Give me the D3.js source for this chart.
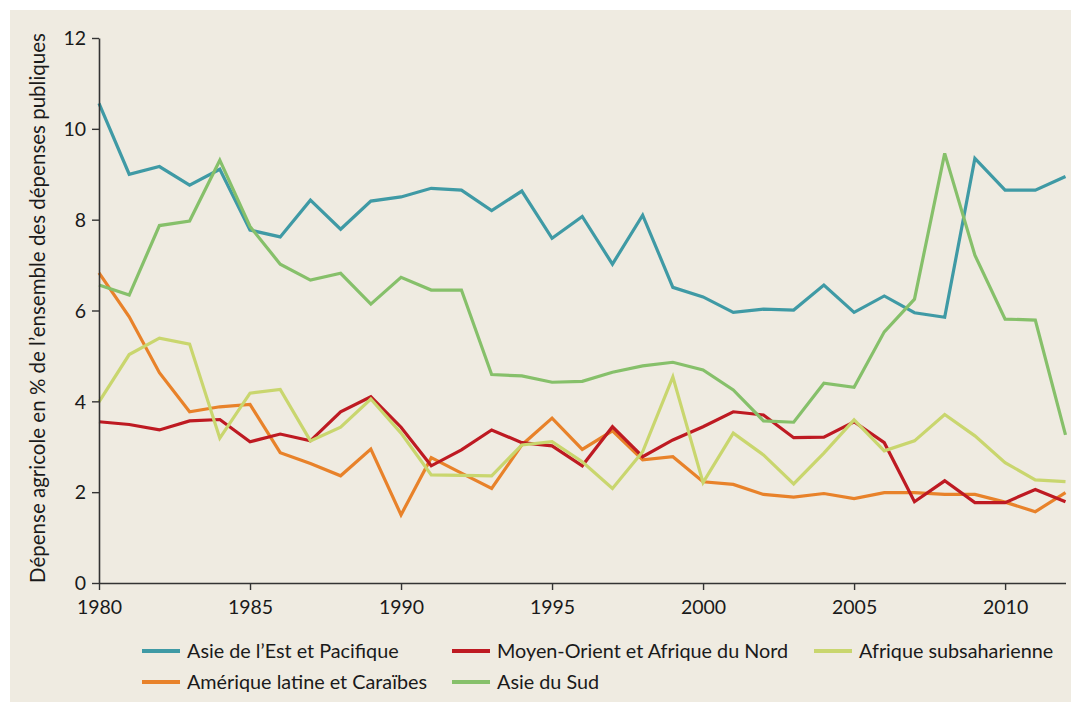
<!DOCTYPE html>
<html>
<head>
<meta charset="utf-8">
<script src="https://cdn.jsdelivr.net/npm/d3@7"></script>
<style>
  body { margin: 0; background: #fff; }
  svg { display: block; }
  text { font-family: Lato, "Noto Sans", sans-serif; fill: #1a1a1a; }
</style>
</head>
<body>
<svg id="chart" width="1071" height="702"></svg>
<script>
// années 1980 - 2012
var annees = d3.range(1980, 2013);

var asieEst = [10.56, 9.0, 9.17, 8.76, 9.11, 7.77, 7.62, 8.43, 7.79, 8.41, 8.5,
  8.69, 8.65, 8.2, 8.63, 7.59, 8.07, 7.02, 8.1, 6.51, 6.3,
  5.96, 6.03, 6.01, 6.56, 5.96, 6.32, 5.95, 5.85, 9.35, 8.65, 8.65, 8.95];
var moyenOrient = [3.55, 3.49, 3.37, 3.57, 3.6, 3.11, 3.28, 3.13, 3.77, 4.1, 3.43,
  2.58, 2.93, 3.37, 3.09, 3.02, 2.58, 3.44, 2.78, 3.15, 3.44,
  3.77, 3.7, 3.2, 3.21, 3.55, 3.09, 1.79, 2.25, 1.77, 1.77, 2.06, 1.79];
var afriqueSub = [3.99, 5.03, 5.39, 5.26, 3.19, 4.18, 4.26, 3.13, 3.43, 4.05, 3.3,
  2.38, 2.37, 2.36, 3.04, 3.11, 2.67, 2.08, 2.89, 4.54, 2.21,
  3.3, 2.82, 2.18, 2.86, 3.59, 2.91, 3.13, 3.71, 3.24, 2.65, 2.27, 2.23];
var ameriqueLat = [6.83, 5.86, 4.63, 3.77, 3.88, 3.93, 2.87, 2.63, 2.36, 2.95, 1.5,
  2.76, 2.42, 2.08, 3.04, 3.63, 2.94, 3.35, 2.71, 2.78, 2.23,
  2.17, 1.95, 1.89, 1.97, 1.86, 1.99, 1.99, 1.95, 1.95, 1.78, 1.57, 1.99];
var asieSud = [6.56, 6.34, 7.87, 7.97, 9.31, 7.85, 7.02, 6.67, 6.82, 6.14, 6.73,
  6.45, 6.45, 4.59, 4.56, 4.42, 4.44, 4.64, 4.78, 4.86, 4.69,
  4.25, 3.57, 3.54, 4.4, 4.31, 5.53, 6.25, 9.46, 7.22, 5.81, 5.79, 3.26];

var xTicks = [1980, 1985, 1990, 1995, 2000, 2005, 2010];
var yTicks = [0, 2, 4, 6, 8, 10, 12];

var series = [
  { nom: "Amérique latine et Caraïbes", valeurs: ameriqueLat, couleur: "#e8822a" },
  { nom: "Asie de l’Est et Pacifique", valeurs: asieEst, couleur: "#3f9aa5" },
  { nom: "Moyen-Orient et Afrique du Nord", valeurs: moyenOrient, couleur: "#be1a22" },
  { nom: "Afrique subsaharienne", valeurs: afriqueSub, couleur: "#c9d66e" },
  { nom: "Asie du Sud", valeurs: asieSud, couleur: "#86c06a" }
];

var svg = d3.select("#chart");

// fond beige
svg.append("rect")
  .attr("x", 10).attr("y", 10)
  .attr("width", 1061).attr("height", 692)
  .attr("fill", "#efebe1");

var x = d3.scaleLinear().domain([1980, 2012]).range([99, 1065.5]);
var y = d3.scaleLinear().domain([0, 12]).range([583, 38]);

var ligne = d3.line()
  .x(function(d, i) { return x(annees[i]); })
  .y(function(d) { return y(d); });

for (var i = 0; i < series.length; i++) {
  svg.append("path")
    .datum(series[i].valeurs)
    .attr("d", ligne)
    .attr("fill", "none")
    .attr("stroke", series[i].couleur)
    .attr("stroke-width", 3.2)
    .attr("stroke-linejoin", "miter");
}

// axes
var axeX = svg.append("g")
  .attr("transform", "translate(0,583)")
  .call(d3.axisBottom(x).tickValues(xTicks).tickFormat(d3.format("d")).tickSize(7).tickSizeOuter(0));
var axeY = svg.append("g")
  .attr("transform", "translate(99,0)")
  .call(d3.axisLeft(y).tickValues(yTicks).tickSize(7).tickSizeOuter(0));

[axeX, axeY].forEach(function(a) {
  a.select(".domain").attr("stroke", "#333").attr("stroke-width", 1.6);
  a.selectAll(".tick line").attr("stroke", "#333").attr("stroke-width", 1.4);
  a.selectAll(".tick text").style("font-size", "19.5px").attr("fill", "#1a1a1a");
});
axeX.selectAll(".tick text").attr("dy", "1.1em");
axeY.selectAll(".tick text").attr("x", -13).attr("dy", "0.35em");

// titre axe Y
svg.append("text")
  .attr("transform", "translate(45,308) rotate(-90)")
  .attr("text-anchor", "middle")
  .style("font-size", "20.5px")
  .text("Dépense agricole en % de l’ensemble des dépenses publiques");

// légende
var legende = [
  { s: series[1], x: 142, y: 651 },
  { s: series[2], x: 452, y: 651 },
  { s: series[3], x: 814, y: 651 },
  { s: series[0], x: 142, y: 682 },
  { s: series[4], x: 452, y: 682 }
];
legende.forEach(function(l) {
  svg.append("line")
    .attr("x1", l.x).attr("x2", l.x + 38)
    .attr("y1", l.y).attr("y2", l.y)
    .attr("stroke", l.s.couleur).attr("stroke-width", 4);
  svg.append("text")
    .attr("x", l.x + 45).attr("y", l.y)
    .attr("dy", "0.35em")
    .style("font-size", "19.8px")
    .text(l.s.nom);
});
</script>
</body>
</html>
